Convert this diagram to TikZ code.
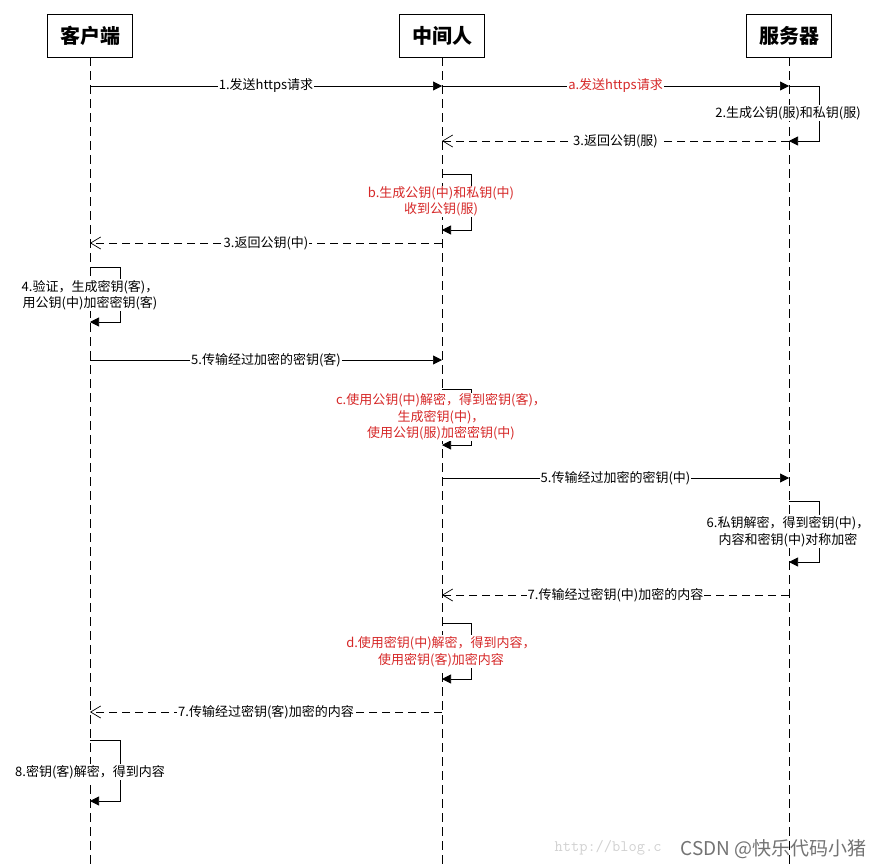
\documentclass[tikz,border=0pt]{standalone}
\usepackage{fontspec}
\setmainfont{Noto Sans CJK SC}
\usetikzlibrary{arrows.meta}

\definecolor{mitmred}{RGB}{214,40,40}
\tikzset{
  actor/.style={draw, line width=0.9pt, minimum width=85pt, minimum height=43pt, font=\fontsize{20}{23}\selectfont\bfseries},
  life/.style={line width=0.8pt, dash pattern=on 9pt off 5pt},
  msg/.style={line width=0.7pt, -{Triangle[length=9pt,width=9pt]}},
  reply/.style={line width=0.7pt, dash pattern=on 8pt off 5pt, -{Straight Barb[length=10pt,width=12pt]}},
  lbl/.style={fill=white, inner sep=1pt, font=\fontsize{13}{16.5}\selectfont, align=center},
  mitm/.style={lbl, text=mitmred},
}

\begin{document}
\begin{tikzpicture}[x=1pt, y=-1pt]
  \useasboundingbox (0,0) rectangle (882,867);
  % actors and lifelines
  \node[actor] (cli) at (90,35.5) {客户端};
  \node[actor] (mid) at (442,35.5) {中间人};
  \node[actor] (srv) at (789,35.5) {服务器};
  \coordinate (end) at (0,867);
  \foreach \n in {cli,mid,srv}
    \draw[life] (\n.south) -- (\n |- end);

  % message rows
  \foreach \n/\y in {r1/86, r3/141, b1/174, b2/230, r3b/243, l4a/267, l4b/322, r5/360,
                     c1/389, c2/445, r5b/478, l6a/501, l6b/562, r7/595, d1/623, d2/679,
                     r7b/712, l8a/740, l8b/801}
    \coordinate (\n) at (0,\y);

  % handshake
  \draw[msg] (cli |- r1) -- (mid |- r1) node[lbl, midway] {1.发送https请求};
  \draw[msg] (mid |- r1) -- (srv |- r1) node[mitm, midway] {a.发送https请求};
  \draw[msg] (srv |- r1) -- ++(30,0) |- (srv |- r3);
  \node[lbl] (t2) at (788,113) {2.生成公钥(服)和私钥(服)};
  \draw[reply] (srv |- r3) -- (mid |- r3) node[lbl, midway] {3.返回公钥(服)};
  \draw[msg] (mid |- b1) -- ++(29,0) |- (mid |- b2);
  \node[mitm] (tb) at (441,201.5) {b.生成公钥(中)和私钥(中)\\收到公钥(服)};
  \draw[reply] (mid |- r3b) -- (cli |- r3b) node[lbl, midway] {3.返回公钥(中)};
  \draw[msg] (cli |- l4a) -- ++(30,0) |- (cli |- l4b);
  \node[lbl] (t4) at (90,295) {4.验证，生成密钥(客)，\\用公钥(中)加密密钥(客)};

  % key exchange
  \draw[msg] (cli |- r5) -- (mid |- r5) node[lbl, midway] {5.传输经过加密的密钥(客)};
  \draw[msg] (mid |- c1) -- ++(29,0) |- (mid |- c2);
  \node[mitm] (tc) at (441,417) {c.使用公钥(中)解密，得到密钥(客)，\\生成密钥(中)，\\使用公钥(服)加密密钥(中)};
  \draw[msg] (mid |- r5b) -- (srv |- r5b) node[lbl, midway] {5.传输经过加密的密钥(中)};
  \draw[msg] (srv |- l6a) -- ++(30,0) |- (srv |- l6b);
  \node[lbl] (t6) at (788,531.5) {6.私钥解密，得到密钥(中)，\\内容和密钥(中)对称加密};

  % content
  \draw[reply] (srv |- r7) -- (mid |- r7) node[lbl, midway] {7.传输经过密钥(中)加密的内容};
  \draw[msg] (mid |- d1) -- ++(29,0) |- (mid |- d2);
  \node[mitm] (td) at (441,651.5) {d.使用密钥(中)解密，得到内容，\\使用密钥(客)加密内容};
  \draw[reply] (mid |- r7b) -- (cli |- r7b) node[lbl, midway] {7.传输经过密钥(客)加密的内容};
  \draw[msg] (cli |- l8a) -- ++(30,0) |- (cli |- l8b);
  \node[lbl] (t8) at (90,772) {8.密钥(客)解密，得到内容};

  % watermark
  \node[anchor=west, text=black!18, font=\ttfamily\fontsize{16}{18}\selectfont] (url) at (551,848) {http://blog.c};
  \node[anchor=east, text=black!55, font=\fontsize{19}{21}\selectfont] (wm) at (870,849) {CSDN @快乐代码小猪};
\end{tikzpicture}
\end{document}
